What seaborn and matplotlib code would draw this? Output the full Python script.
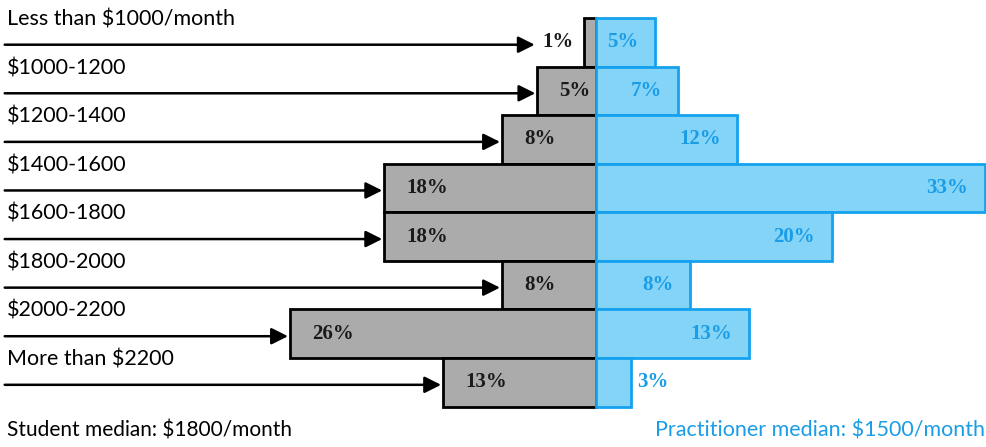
import numpy as np
import pandas as pd
import matplotlib
matplotlib.use("Agg")
import matplotlib.pyplot as plt
import seaborn as sns

# salary brackets, top to bottom
brackets = ["Less than $1000/month", "$1000-1200", "$1200-1400", "$1400-1600",
            "$1600-1800", "$1800-2000", "$2000-2200", "More than $2200"]
student_pct = [1, 5, 8, 18, 18, 8, 26, 13]
practitioner_pct = [5, 7, 12, 33, 20, 8, 13, 3]
student_note = "Student median: $1800/month"
practitioner_note = "Practitioner median: $1500/month"

gray_fill = "#ababab"
blue_fill = "#84d4f8"
blue_edge = "#14a2ee"
blue_text = "#1a9de6"

sns.set_theme(style="white")
plt.rcParams['font.family'] = ['Lato', 'DejaVu Sans']

df = pd.DataFrame({"bracket": brackets,
                   "student": -np.array(student_pct),
                   "practitioner": practitioner_pct})

fig = plt.figure(figsize=(9.87, 4.47), dpi=100)
ax = fig.add_axes([0, 0, 1, 1])

sns.barplot(data=df, x="student", y="bracket", orient="h", width=1.0,
            color=gray_fill, saturation=1, edgecolor="black", linewidth=2, ax=ax)
sns.barplot(data=df, x="practitioner", y="bracket", orient="h", width=1.0,
            color=blue_fill, saturation=1, edgecolor=blue_edge, linewidth=2, ax=ax)

ax.set_xlim(-50.6, 33.2)
ax.set_ylim(8.33, -0.87)
ax.axis("off")

pct_font = dict(family="Liberation Serif", fontweight="bold", fontsize=15)

for i, (name, s, p) in enumerate(zip(brackets, student_pct, practitioner_pct)):
    # bracket name above the arrow
    ax.text(-50.0, i - 0.47, name, ha="left", va="center", fontsize=15.5, color="black")
    # arrow pointing at the student bar
    if s < 3:
        tip = -s - 4.2
        ax.text(-s - 0.9, i, f"{s}%", ha="right", va="center", color="#1a1a1a", **pct_font)
    else:
        tip = -s - 0.15
        ax.text(-s + 1.9, i, f"{s}%", ha="left", va="center", color="#1a1a1a", **pct_font)
    ax.annotate("", xy=(tip, i + 0.05), xytext=(-50.2, i + 0.05),
                arrowprops=dict(arrowstyle="-|>", lw=1.8, color="black",
                                mutation_scale=25, shrinkA=0, shrinkB=0))
    # practitioner label
    if p < 4:
        ax.text(p + 0.5, i, f"{p}%", ha="left", va="center", color=blue_text, **pct_font)
    else:
        ax.text(p - 1.4, i, f"{p}%", ha="right", va="center", color=blue_text, **pct_font)

ax.text(-50.0, 8.0, student_note, ha="left", va="center", fontsize=15, color="black")
ax.text(33.0, 8.0, practitioner_note, ha="right", va="center", fontsize=15.5, color=blue_text)

fig.savefig("out.png", dpi=100)
